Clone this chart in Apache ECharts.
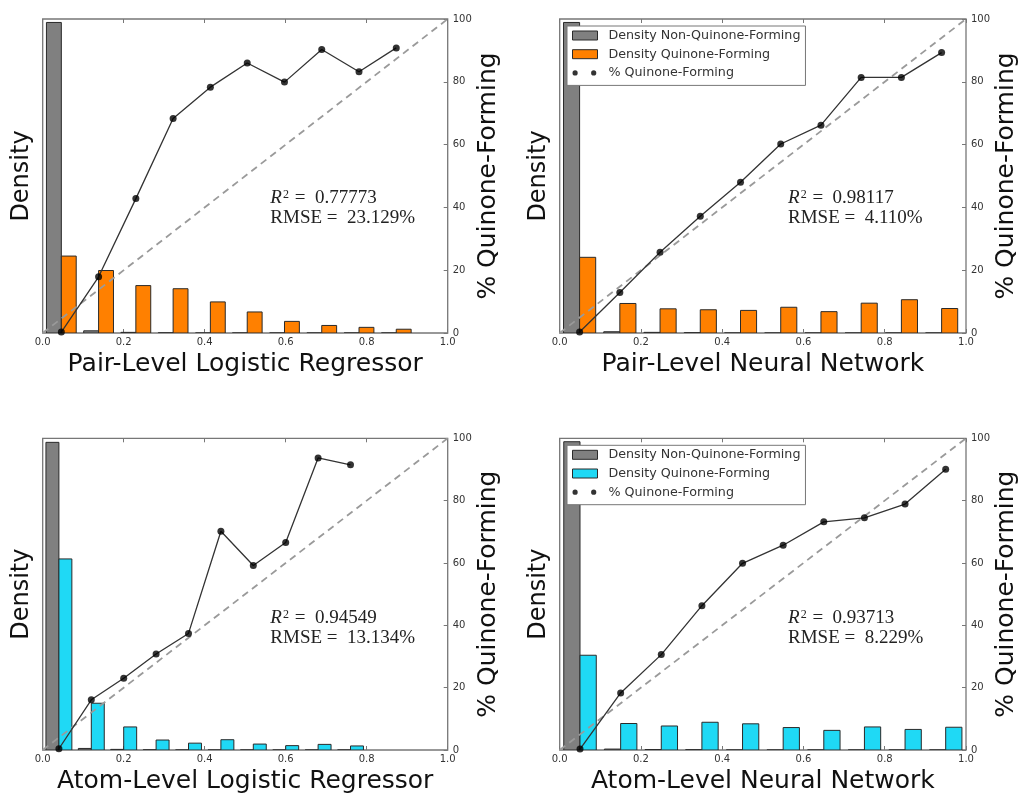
<!DOCTYPE html>
<html><head><meta charset="utf-8">
<script src="https://cdn.jsdelivr.net/npm/echarts@6/dist/echarts.min.js"></script>
<style>html,body{margin:0;padding:0;background:#fff}#c{width:1023px;height:795px}</style>
</head><body><div id="c"></div>
<script>
// ---------- data ----------
const panelTitles = ['Pair-Level Logistic Regressor', 'Pair-Level Neural Network', 'Atom-Level Logistic Regressor', 'Atom-Level Neural Network'];
const r2Values = ['0.77773', '0.98117', '0.94549', '0.93713'];
const rmseValues = ['23.129%', '4.110%', '13.134%', '8.229%'];
const xTickValues = [0, 0.2, 0.4, 0.6, 0.8, 1.0];
const yTickValues = [0, 20, 40, 60, 80, 100];
const diagonal = [[0, 0], [1, 100]];

const binsPairLR = [0.046, 0.138, 0.230, 0.322, 0.414, 0.505, 0.597, 0.689, 0.781, 0.873];
const nonQPairLR = [98.9, 0.7, 0.2, 0.05, 0, 0, 0, 0, 0, 0];
const qPairLR = [24.5, 19.9, 15.1, 14.1, 9.9, 6.7, 3.7, 2.4, 1.8, 1.2];
const pctPairLR = [0.3, 17.9, 42.8, 68.3, 78.3, 86.0, 79.9, 90.3, 83.2, 90.8];

const binsPairNN = [0.049, 0.148, 0.247, 0.346, 0.445, 0.544, 0.643, 0.742, 0.841, 0.940];
const nonQPairNN = [98.9, 0.4, 0.2, 0.1, 0, 0, 0, 0, 0, 0];
const qPairNN = [24.1, 9.4, 7.7, 7.4, 7.2, 8.2, 6.8, 9.5, 10.6, 7.8];
const pctPairNN = [0.3, 12.9, 25.7, 37.2, 48.0, 60.2, 66.2, 81.4, 81.4, 89.3];

const binsAtomLR = [0.04, 0.12, 0.20, 0.28, 0.36, 0.44, 0.52, 0.60, 0.68, 0.76];
const nonQAtomLR = [98.7, 0.5, 0.2, 0.05, 0, 0, 0, 0, 0, 0];
const qAtomLR = [61.3, 15.0, 7.4, 3.2, 2.2, 3.3, 1.9, 1.4, 1.8, 1.3];
const pctAtomLR = [0.4, 16.1, 23.0, 30.8, 37.4, 70.2, 59.2, 66.6, 93.7, 91.5];

const binsAtomNN = [0.05, 0.15, 0.25, 0.35, 0.45, 0.55, 0.65, 0.75, 0.85, 0.95];
const nonQAtomNN = [98.9, 0.3, 0.15, 0.1, 0, 0, 0, 0, 0, 0];
const qAtomNN = [30.4, 8.5, 7.7, 8.9, 8.4, 7.2, 6.3, 7.4, 6.6, 7.3];
const pctAtomNN = [0.3, 18.3, 30.6, 46.3, 59.9, 65.7, 73.2, 74.5, 78.9, 90.1];

// ---------- layout / style ----------
const binWidths = [0.0919, 0.099, 0.08, 0.1];
const grids = [
  {left: 42.7, top: 19, width: 405, height: 314},
  {left: 559.7, top: 19, width: 406.3, height: 314},
  {left: 42.7, top: 438.3, width: 405, height: 315},
  {left: 559.7, top: 438.3, width: 406.3, height: 315}
];
const ORANGE = '#ff8000', CYAN = '#1fd9f5', GRAY = '#808080';
const panels = [
  {bins: binsPairLR, nonQ: nonQPairLR, q: qPairLR, pct: pctPairLR, color: ORANGE, legend: false},
  {bins: binsPairNN, nonQ: nonQPairNN, q: qPairNN, pct: pctPairNN, color: ORANGE, legend: true},
  {bins: binsAtomLR, nonQ: nonQAtomLR, q: qAtomLR, pct: pctAtomLR, color: CYAN, legend: false},
  {bins: binsAtomNN, nonQ: nonQAtomNN, q: qAtomNN, pct: pctAtomNN, color: CYAN, legend: true}
];
const FONT = 'DejaVu Sans';
const FRAME = '#777';
const dotsIcon = 'path://M0,0h0.01v0.01zM25,9h-0.01v-0.01zM0,4.5a2.6,2.6 0 1,0 5.2,0a2.6,2.6 0 1,0 -5.2,0zM18.6,4.5a2.6,2.6 0 1,0 5.2,0a2.6,2.6 0 1,0 -5.2,0z';

function barRender(bw, side, fill) {
  return function (params, api) {
    const c = api.value(0), v = api.value(1);
    const x0 = side < 0 ? c - 0.4 * bw : c;
    const x1 = side < 0 ? c : c + 0.4 * bw;
    const p0 = api.coord([x0, v]);
    const p1 = api.coord([x1, 0]);
    return {
      type: 'rect',
      shape: {x: p0[0], y: p0[1], width: p1[0] - p0[0], height: p1[1] - p0[1]},
      style: {fill: fill, stroke: '#2a2a2a', lineWidth: 1}
    };
  };
}
function tickStyle() {
  return {show: true, inside: true, length: 4, lineStyle: {color: FRAME, width: 1}};
}

const option = {
  backgroundColor: '#fff',
  animation: false,
  grid: [], xAxis: [], yAxis: [], series: [], legend: [], graphic: []
};

panels.forEach((p, i) => {
  const g = grids[i];
  option.grid.push(Object.assign({show: true, borderColor: FRAME, borderWidth: 1.3, backgroundColor: '#fff', containLabel: false}, g));
  option.xAxis.push({
    gridIndex: i, type: 'value', min: 0, max: 1, interval: 0.2, position: 'bottom',
    axisLine: {show: false, onZero: false}, axisTick: tickStyle(), splitLine: {show: false},
    axisLabel: {fontFamily: FONT, fontSize: 10, color: '#333', margin: 4, showMaxLabel: true, showMinLabel: true,
      formatter: v => v.toFixed(1)},
    name: panelTitles[i], nameLocation: 'middle', nameGap: 19,
    nameTextStyle: {fontFamily: FONT, fontSize: 25, color: '#111'}
  });
  option.xAxis.push({
    gridIndex: i, type: 'value', min: 0, max: 1, interval: 0.2, position: 'top',
    axisLine: {show: false, onZero: false}, axisTick: tickStyle(), splitLine: {show: false}, axisLabel: {show: false}
  });
  option.yAxis.push({
    gridIndex: i, type: 'value', min: 0, max: 100, position: 'left',
    axisLine: {show: false, onZero: false}, axisTick: {show: false, length: 0, lineStyle: {color: 'rgba(0,0,0,0)'}},
    minorTick: {show: false}, splitLine: {show: false}, axisLabel: {show: false},
    name: 'Density', nameLocation: 'middle', nameRotate: 90, nameGap: 9,
    nameTextStyle: {fontFamily: FONT, fontSize: 24, color: '#111'}
  });
  option.yAxis.push({
    gridIndex: i, type: 'value', min: 0, max: 100, interval: 20, position: 'right',
    axisLine: {show: false, onZero: false}, axisTick: tickStyle(), splitLine: {show: false},
    axisLabel: {fontFamily: FONT, fontSize: 10, color: '#333', margin: 5},
    name: '% Quinone-Forming', nameLocation: 'middle', nameRotate: 90, nameGap: 27,
    nameTextStyle: {fontFamily: FONT, fontSize: 25, color: '#111'}
  });
  const bw = binWidths[i];
  option.series.push({
    type: 'custom', name: 'Density Non-Quinone-Forming', xAxisIndex: 2 * i, yAxisIndex: 2 * i,
    renderItem: barRender(bw, -1, GRAY), itemStyle: {color: GRAY}, clip: true, z: 1,
    data: p.bins.map((b, k) => [b, p.nonQ[k]])
  });
  option.series.push({
    type: 'custom', name: 'Density Quinone-Forming', xAxisIndex: 2 * i, yAxisIndex: 2 * i,
    renderItem: barRender(bw, 1, p.color), itemStyle: {color: p.color}, clip: true, z: 1,
    data: p.bins.map((b, k) => [b, p.q[k]])
  });
  option.series.push({
    type: 'line', name: 'diag', xAxisIndex: 2 * i, yAxisIndex: 2 * i + 1, showSymbol: false, z: 3,
    lineStyle: {color: '#9a9a9a', width: 1.8, type: [7, 5]}, data: diagonal, silent: true
  });
  option.series.push({
    type: 'line', name: 'pctline', xAxisIndex: 2 * i, yAxisIndex: 2 * i + 1, showSymbol: false, z: 4,
    lineStyle: {color: '#333', width: 1.3}, data: p.bins.map((b, k) => [b, p.pct[k]]), silent: true
  });
  option.series.push({
    type: 'scatter', name: '% Quinone-Forming', xAxisIndex: 2 * i, yAxisIndex: 2 * i + 1, z: 5,
    symbolSize: 7, itemStyle: {color: '#000'}, data: p.bins.map((b, k) => [b, p.pct[k]])
  });
  if (p.legend) {
    option.legend.push({
      orient: 'vertical', left: g.left + 7.3, top: g.top + 7, selectedMode: false,
      backgroundColor: '#fff', borderColor: FRAME, borderWidth: 1, borderRadius: 0,
      padding: [3, 5, 6, 5], itemWidth: 25, itemHeight: 9, itemGap: 5.7,
      textStyle: {fontFamily: FONT, fontSize: 12.7, color: '#333', padding: [0, 0, 0, 6]},
      data: [
        {name: 'Density Non-Quinone-Forming', icon: 'rect', itemStyle: {color: GRAY, borderColor: '#2a2a2a', borderWidth: 1}},
        {name: 'Density Quinone-Forming', icon: 'rect', itemStyle: {color: p.color, borderColor: '#2a2a2a', borderWidth: 1}},
        {name: '% Quinone-Forming', icon: dotsIcon, itemStyle: {color: '#000'}}
      ]
    });
  }
  const tx = g.left + 0.562 * g.width;
  option.graphic.push({
    type: 'text', x: tx, y: g.top + 0.570 * g.height, z: 100,
    style: {
      text: '{i|R}{s|2}{n| =  ' + r2Values[i] + '}', verticalAlign: 'middle',
      rich: {
        i: {fontFamily: 'Liberation Serif', fontStyle: 'italic', fontSize: 19, fill: '#222'},
        s: {fontFamily: 'Liberation Serif', fontSize: 12, fill: '#222', verticalAlign: 'top', padding: [0, 1, 0, 1]},
        n: {fontFamily: 'Liberation Serif', fontSize: 19, fill: '#222'}
      }
    }
  });
  option.graphic.push({
    type: 'text', x: tx, y: g.top + 0.634 * g.height, z: 100,
    style: {text: 'RMSE =  ' + rmseValues[i], verticalAlign: 'middle', fontFamily: 'Liberation Serif', fontSize: 19, fill: '#222'}
  });
});

const chart = echarts.init(document.getElementById('c'), null, {renderer: 'canvas'});
chart.setOption(option);
</script></body></html>
